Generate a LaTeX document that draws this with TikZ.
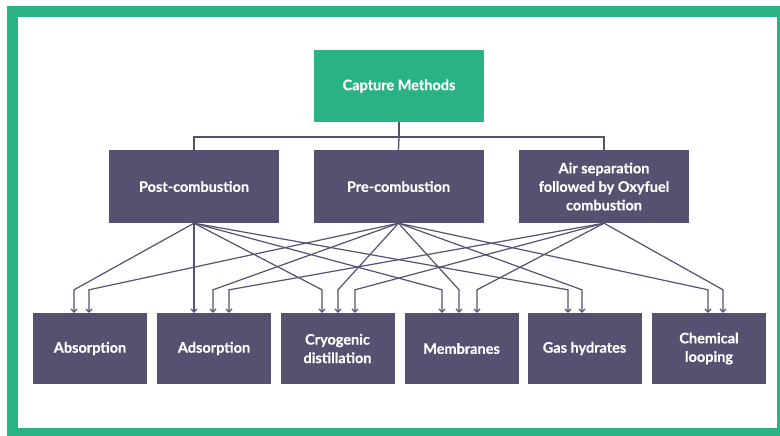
\documentclass[tikz,border=0pt]{standalone}
\usepackage{fontspec}
\setmainfont{Lato}[FakeBold=0.4]
\usetikzlibrary{arrows.meta}
\definecolor{cgreen}{RGB}{42,178,132}
\definecolor{slate}{RGB}{84,82,112}
\newcommand\arrto[3]{\draw[arr] (#1.south) -- ([xshift=#3pt,yshift=23pt]#2.north) -- ([xshift=#3pt]#2.north);}
\begin{document}
\begin{tikzpicture}[x=1pt,y=-1pt,
  txt/.style={text=white, align=center, inner sep=0pt, font=\fontsize{14.5}{18.5}\selectfont\bfseries},
  topbox/.style={txt, fill=cgreen, minimum width=170pt, minimum height=72pt},
  midbox/.style={txt, fill=slate, minimum width=170pt, minimum height=73pt},
  botbox/.style={txt, fill=slate, minimum width=114pt, minimum height=71pt},
  link/.style={draw=slate, line width=1.3pt},
  arr/.style={draw=slate, line width=1.2pt, -{Straight Barb[length=3pt,width=6pt]}}]
\useasboundingbox (0,0) rectangle (780,436);
\fill[white] (0,0) rectangle (780,436);
\fill[cgreen] (7,6) rectangle (780,436);
\fill[white] (18,17) rectangle (777,428);

\node[topbox] (cap) at (399,86) {Capture Methods};
\node[midbox] (post) at (194,186.5) {Post-combustion};
\node[midbox] (pre) at (398.5,186.5) {Pre-combustion};
\node[midbox] (air) at (604,186.5) {Air separation\\followed by Oxyfuel\\combustion};

\node[botbox] (abs) at (90,348.5) {Absorption};
\node[botbox] (ads) at (214,348.5) {Adsorption};
\node[botbox] (cryo) at (337.5,348.5) {Cryogenic\\distillation};
\node[botbox] (mem) at (461.5,348.5) {Membranes};
\node[botbox] (gas) at (584.5,348.5) {Gas hydrates};
\node[botbox] (chem) at (709,348.5) {Chemical\\looping};

\coordinate (bus) at (399,137);
\draw[link] (cap.south) -- (bus);
\draw[link] (bus) -| (post.north);
\draw[link] (bus) -| (air.north);
\draw[link] (bus) -- (pre.north);

\arrto{post}{abs}{-16}
\arrto{pre}{abs}{-1}
\arrto{post}{ads}{-20}
\arrto{pre}{ads}{-1}
\arrto{air}{ads}{15}
\arrto{post}{cryo}{-15.5}
\arrto{pre}{cryo}{0.5}
\arrto{air}{cryo}{17.5}
\arrto{post}{mem}{-19.5}
\arrto{pre}{mem}{-2.5}
\arrto{air}{mem}{15.5}
\arrto{post}{gas}{-16.5}
\arrto{pre}{gas}{-2.5}
\arrto{pre}{chem}{-1}
\arrto{air}{chem}{14}
\end{tikzpicture}
\end{document}
